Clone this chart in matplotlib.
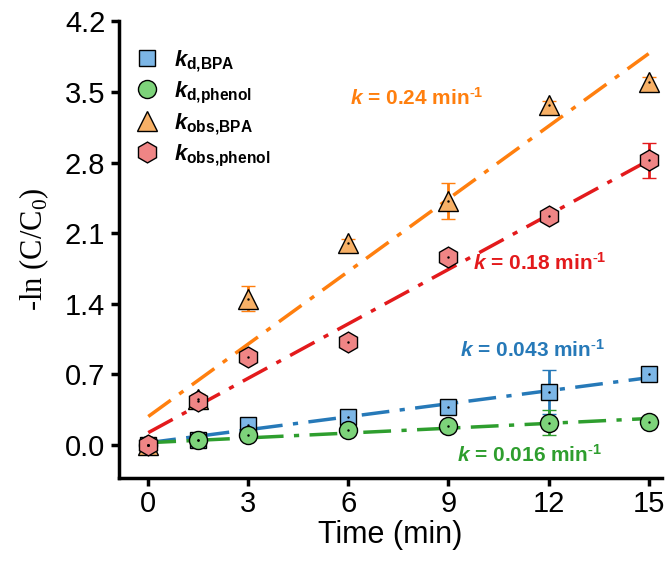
import numpy as np
import matplotlib
matplotlib.use("Agg")
import matplotlib.pyplot as plt

plt.rcParams['font.family'] = ['Liberation Sans', 'DejaVu Sans']
plt.rcParams['mathtext.fontset'] = 'custom'
plt.rcParams['mathtext.it'] = 'Liberation Sans:italic:bold'
plt.rcParams['mathtext.bf'] = 'Liberation Sans:bold'
plt.rcParams['mathtext.rm'] = 'Liberation Serif'

# data
time = [0, 1.5, 3, 6, 9, 12, 15]
kd_bpa = [0.0, 0.05, 0.20, 0.28, 0.37, 0.52, 0.70]
kd_bpa_err = [0.0, 0.02, 0.06, 0.04, 0.05, 0.22, 0.05]
kd_phenol = [0.0, 0.05, 0.10, 0.15, 0.19, 0.22, 0.23]
kd_phenol_err = [0.0, 0.02, 0.03, 0.03, 0.03, 0.12, 0.03]
kobs_bpa = [0.0, 0.45, 1.45, 2.00, 2.42, 3.37, 3.60]
kobs_bpa_err = [0.0, 0.05, 0.12, 0.04, 0.18, 0.04, 0.05]
kobs_phenol = [0.0, 0.43, 0.87, 1.02, 1.86, 2.27, 2.82]
kobs_phenol_err = [0.0, 0.05, 0.04, 0.05, 0.05, 0.04, 0.17]

fit_x = [0, 15]
slopes = [0.043, 0.016, 0.24, 0.18]
intercepts = [0.02, 0.02, 0.28, 0.12]

labels = [r'$\mathit{k}_{\mathbf{d{,}BPA}}$', r'$\mathit{k}_{\mathbf{d{,}phenol}}$',
          r'$\mathit{k}_{\mathbf{obs{,}BPA}}$', r'$\mathit{k}_{\mathbf{obs{,}phenol}}$']
sup = r'$^{\mathbf{\text{-}1}}$'
k_text = [r'$\mathit{k}$ = 0.043 min' + sup, r'$\mathit{k}$ = 0.016 min' + sup,
          r'$\mathit{k}$ = 0.24 min' + sup, r'$\mathit{k}$ = 0.18 min' + sup]
text_pos = [(9.35, 0.94), (9.25, -0.1), (6.05, 3.44), (9.75, 1.8)]

line_colors = ['#2679b8', '#2e9e2e', '#ff7f0e', '#e31a1c']
fill_colors = ['#7cb6e6', '#7dd37a', '#f7b066', '#ef8585']
markers = ['s', 'o', '^', 'h']
sizes = [12, 13, 14, 15]

series = [(kd_bpa, kd_bpa_err), (kd_phenol, kd_phenol_err),
          (kobs_bpa, kobs_bpa_err), (kobs_phenol, kobs_phenol_err)]

fig = plt.figure(figsize=(6.7, 5.63), dpi=100)
ax = fig.add_axes([0.178, 0.151, 0.81, 0.811])

handles = []
for i, (y, err) in enumerate(series):
    xs = np.array(fit_x)
    ax.plot(xs, intercepts[i] + slopes[i] * xs, color=line_colors[i], lw=2.5,
            dashes=(8, 3, 1.5, 3), zorder=2)
    h = ax.errorbar(time, y, yerr=err, fmt=markers[i], ms=sizes[i], mfc=fill_colors[i],
                    mec='black', mew=1.0, ecolor=line_colors[i], elinewidth=2,
                    capsize=5, capthick=2, zorder=3, label=labels[i])
    ax.plot(time, y, '.', color='black', ms=1.5, zorder=4)
    handles.append(h)
    ax.text(text_pos[i][0], text_pos[i][1], k_text[i], color=line_colors[i],
            fontsize=15, fontweight='bold', ha='left', va='center')

leg = ax.legend(handles=[h[0] for h in handles], labels=labels, loc='upper left',
                bbox_to_anchor=(-0.01, 0.985), frameon=False, fontsize=16,
                handletextpad=0.6, labelspacing=0.25, handlelength=1.2)

ax.set_xlim(-0.87, 15.4)
ax.set_ylim(-0.33, 4.2)
ax.set_xticks([0, 3, 6, 9, 12, 15])
ax.set_yticks([0.0, 0.7, 1.4, 2.1, 2.8, 3.5, 4.2])
ax.set_yticklabels(['0.0', '0.7', '1.4', '2.1', '2.8', '3.5', '4.2'])
ax.spines['top'].set_visible(False)
ax.spines['right'].set_visible(False)
ax.spines['left'].set_linewidth(2.5)
ax.spines['bottom'].set_linewidth(2.5)
ax.tick_params(direction='out', length=6, width=2.5, labelsize=21, pad=3)
ax.tick_params(axis='y', pad=4)
ax.set_xlabel('Time (min)', fontsize=22, labelpad=1)
ax.set_ylabel(r'-ln (C/C$_0$)', fontsize=22, family='Liberation Serif', labelpad=10)

plt.savefig('out.png', dpi=100)
